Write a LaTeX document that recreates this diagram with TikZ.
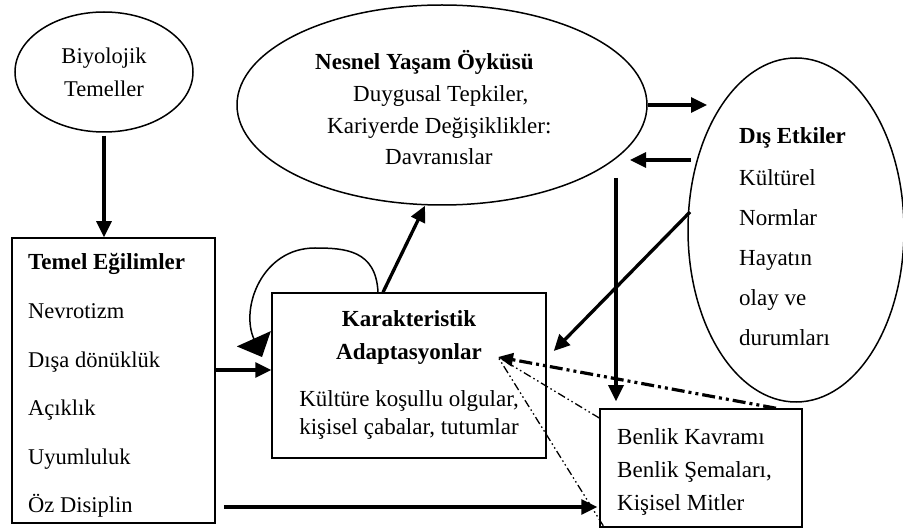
\documentclass[tikz,border=0pt]{standalone}
\usepackage{fontspec}
\setmainfont{Liberation Serif}
\usetikzlibrary{shapes.geometric,arrows.meta,calc}

\begin{document}
\begin{tikzpicture}[x=1pt,y=-1pt,
  outline/.style={draw=black,line width=1.5pt,inner sep=0pt},
  oval/.style={outline,ellipse},
  panel/.style={outline,rectangle},
  txt/.style={inner sep=0pt,font=\fontsize{23}{27}\selectfont},
  smalltxt/.style={inner sep=0pt,font=\fontsize{22.5}{26}\selectfont},
  hd/.style={inner sep=0pt,font=\fontsize{23}{27}\selectfont\bfseries},
  flow/.style={line width=3.3pt,-{Triangle[length=16pt,width=15pt]}},
  selfloop/.style={line width=1.5pt,-{Triangle[length=20pt,width=37pt]}},
  ddthick/.style={line width=3.2pt,dash pattern=on 13pt off 4pt on 3pt off 4pt on 3pt off 4pt,
                  -{Triangle[length=15pt,width=13pt]}},
  ddthin/.style={line width=1.3pt,dash pattern=on 8pt off 3pt on 1.5pt off 3pt on 1.5pt off 3pt},
]
% canvas
\useasboundingbox (0,0) rectangle (903,529);
\fill[white] (0,0) rectangle (903,529);

% shapes
\node[oval,minimum width=178pt,minimum height=120pt] (bio) at (104,72) {};
\node[oval,minimum width=410pt,minimum height=200pt] (nes) at (442,105) {};
\node[oval,minimum width=216pt,minimum height=344pt] (dis) at (796,230) {};
\node[panel,minimum width=203pt,minimum height=285pt] (tem) at (113.5,380.5) {};
\node[panel,minimum width=274pt,minimum height=165pt] (kar) at (409,375.5) {};
\node[panel,minimum width=202pt,minimum height=118pt] (ben) at (701,468) {};

% texts
\node[smalltxt,anchor=base] (bio-1) at (104,64) {Biyolojik};
\node[smalltxt,anchor=base] (bio-2) at (104,97) {Temeller};

\node[hd,anchor=base west]  (nes-1) at (315,70)  {Nesnel Yaşam Öyküsü};
\node[txt,anchor=base west] (nes-2) at (353,102) {Duygusal Tepkiler,};
\node[txt,anchor=base west] (nes-3) at (327,134) {Kariyerde Değişiklikler:};
\node[txt,anchor=base west] (nes-4) at (385,165) {Davranıslar};

\node[hd,anchor=base west] (dis-1) at (739,144) {Dış Etkiler};
\foreach \t [count=\i] in {Kültürel,Normlar,Hayatın,olay ve,durumları}
  \node[txt,anchor=base west] (dis-t\i) at (739,{186+40*(\i-1)}) {\t};

\node[hd,anchor=base west] (tem-1) at (28,270) {Temel Eğilimler};
\foreach \t [count=\i] in {Nevrotizm,Dışa dönüklük,Açıklık,Uyumluluk,Öz Disiplin}
  \node[smalltxt,anchor=base west] (tem-t\i) at (28,{319+48.4*(\i-1)}) {\t};

\node[hd,anchor=base]  (kar-1) at (409,327) {Karakteristik};
\node[hd,anchor=base]  (kar-2) at (409,360) {Adaptasyonlar};
\node[txt,anchor=base] (kar-3) at (409,407) {Kültüre koşullu olgular,};
\node[txt,anchor=base] (kar-4) at (409,435) {kişisel çabalar, tutumlar};

\node[txt,anchor=base west] (ben-1) at (617,444) {Benlik Kavramı};
\node[txt,anchor=base west] (ben-2) at (617,478) {Benlik Şemaları,};
\node[txt,anchor=base west] (ben-3) at (617,510) {Kişisel Mitler};

% free ends of connectors
\coordinate (dis-in)   at (707,105);
\coordinate (dis-out)  at (691,160);
\coordinate (nes-in)   at (630,160);
\coordinate (nes-drop) at (616,178);
\coordinate (dis-kar)  at (690,212);
\coordinate (kar-adapt) at (498,357);
\coordinate (loop-tip) at (262,357);

% solid connectors
\draw[flow] ([yshift=-3pt]bio.south) -- (bio.south |- tem.north);
\draw[flow] (tem.east |- 0,370) -- (kar.west |- 0,370);
\draw[flow] ($(tem.east |- 0,507)+(8,0)$) -- ($(ben.west |- 0,507)+(-2,0)$);
\draw[flow] (383,0 |- kar.north) -- (425,0 |- nes.south);
\draw[flow] (nes.east) -- (dis-in);
\draw[flow] (dis-out) -- (nes-in);
\draw[flow] (nes-drop) -- ($(nes-drop |- ben.north)+(0,-7)$);
\draw[flow] (dis-kar) -- ($(kar.east |- 0,351)+(7,0)$);

% feedback loop on the adaptations box
\draw[selfloop] (378,0 |- kar.north) .. controls (376,250) and (345,248) .. (315,248)
  .. controls (262,248) and (240,308) .. (loop-tip);

% dash-dotted influences of the self-concept
\draw[ddthick] (776,0 |- ben.north) -- (kar-adapt);
\draw[ddthin] (ben.west |- 0,418) -- (kar-adapt);
\draw[ddthin] ($(ben.south west)+(4,-2)$) -- (kar-adapt);
\end{tikzpicture}
\end{document}
